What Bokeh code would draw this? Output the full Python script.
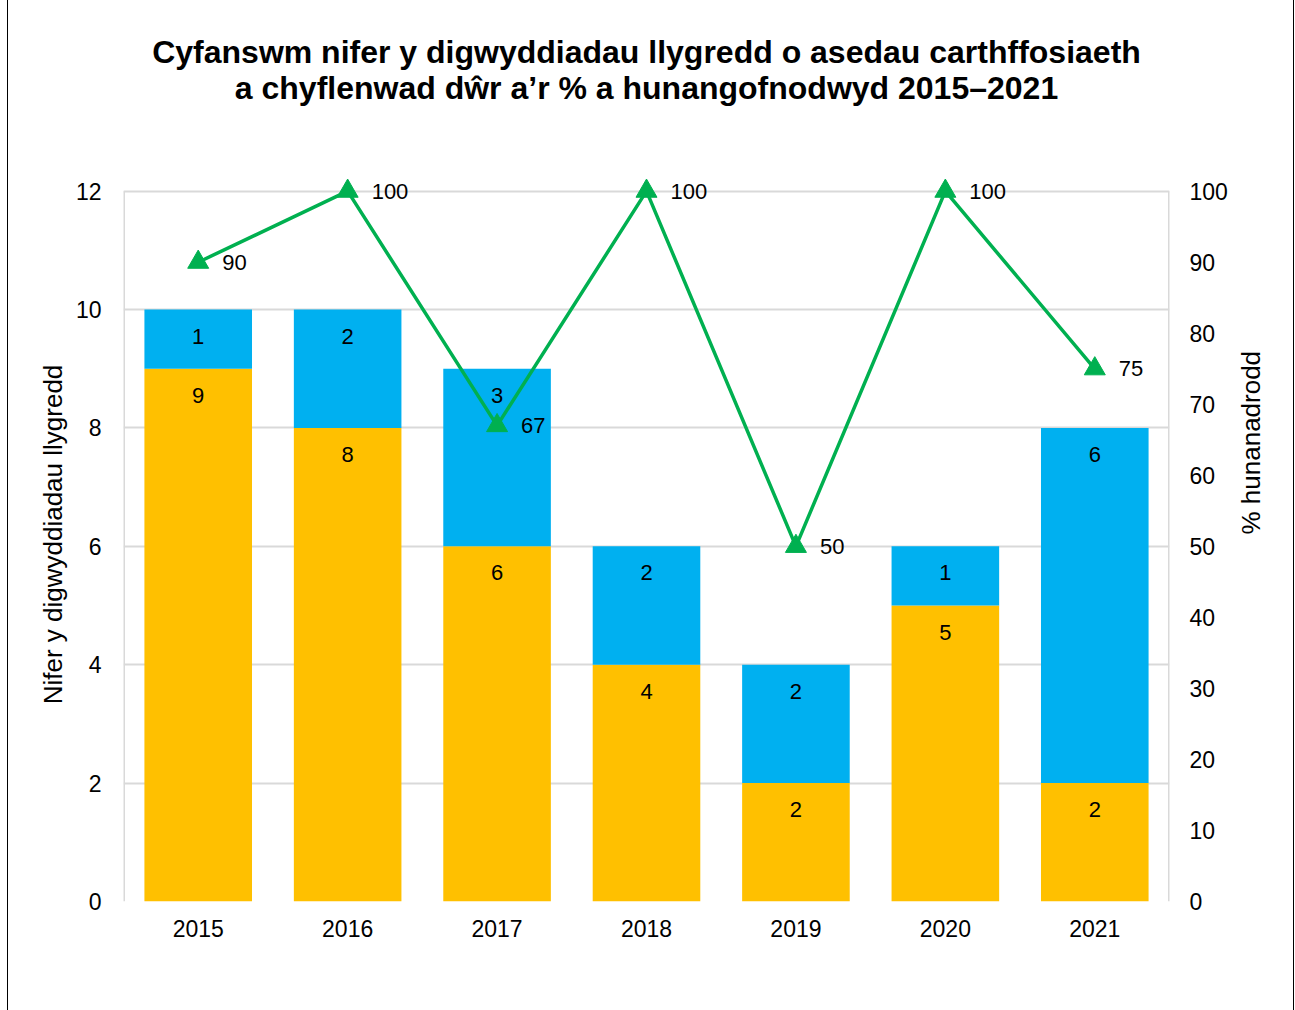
import math
from bokeh.plotting import figure
from bokeh.models import (Range1d, LinearAxis, ColumnDataSource, Legend, LegendItem,
                          FixedTicker)
from bokeh.core.properties import value
from bokeh.embed import file_html
from bokeh.resources import INLINE

years = ["2015", "2016", "2017", "2018", "2019", "2020", "2021"]
sewerage = [9, 8, 6, 4, 2, 5, 2]
water = [1, 2, 3, 2, 2, 1, 6]
self_pct = [90, 100, 67, 100, 50, 100, 75]

title_text = ("Cyfanswm nifer y digwyddiadau llygredd o asedau carthffosiaeth\n"
              "a chyflenwad dŵr a’r % a hunangofnodwyd 2015–2021")
left_label = "Nifer y digwyddiadau llygredd"
right_label = "% hunanadrodd"
series_names = ["Cyfanswm carthffosiaeth", "Cyfanswm cyflenwad dŵr", "% hunanadrodd"]

left_ticks = [0, 2, 4, 6, 8, 10, 12]
right_ticks = [0, 10, 20, 30, 40, 50, 60, 70, 80, 90, 100]
Y_MAX = 12
PCT_MAX = 100
Y_PAD = 0.4   # headroom so that markers/labels at the top are not clipped

FONT = "Liberation Sans"
YELLOW = "#FFC000"
BLUE = "#00B0F0"
GREEN = "#00B050"
GRID = "#d9d9d9"

src = ColumnDataSource(dict(
    year=years,
    sew=sewerage,
    wat=water,
    sew_lab_y=[s - 0.45 for s in sewerage],
    wat_lab_y=[s + w - 0.45 for s, w in zip(sewerage, water)],
    sew_txt=[str(v) for v in sewerage],
    wat_txt=[str(v) for v in water],
    pct=self_pct,
    pct_txt=[str(v) for v in self_pct],
))

p = figure(x_range=years, y_range=Range1d(0, Y_MAX + Y_PAD),
           frame_width=1046, frame_height=734,
           output_backend="svg", toolbar_location=None,
           min_border_left=115, min_border_right=124, min_border_top=195,
           min_border_bottom=60)
p.margin = (-29, 0, 0, 7)
p.styles = {"border": "1.5px solid black", "border-bottom": "none"}

p.title.text = title_text
p.title.align = "center"
p.title.text_align = "center"
p.title.vertical_align = "top"
p.title.text_font = FONT
p.title.text_font_size = "32px"
p.title.text_font_style = "bold"
p.title.text_color = "black"
p.title.text_line_height = 1.0
p.title.standoff = 120

p.extra_y_ranges = {"pct": Range1d(0, PCT_MAX * (Y_MAX + Y_PAD) / Y_MAX)}

bars = p.vbar_stack(["sew", "wat"], x="year", width=0.72, color=[YELLOW, BLUE],
                    line_color=None, source=src)

# frame sides (light grey), drawn only over the 0..Y_MAX span
# (numeric x on a factor range = synthetic coordinate: 0 is the left edge, len(years) the right)
p.segment(x0=[0, len(years)], x1=[0, len(years)], y0=[0, 0], y1=[Y_MAX, Y_MAX],
          line_color=GRID, line_width=3)

line_r = p.line(x="year", y="pct", source=src, y_range_name="pct",
                line_color=GREEN, line_width=3.5)
mark_r = p.scatter(x="year", y="pct", source=src, y_range_name="pct", marker="triangle",
                   size=21, fill_color=GREEN, line_color=GREEN)

lab_font = "22px"
p.text(x="year", y="sew_lab_y", text="sew_txt", source=src, text_align="center",
       text_baseline="middle", text_font=value(FONT), text_font_size=lab_font, text_color="black")
p.text(x="year", y="wat_lab_y", text="wat_txt", source=src, text_align="center",
       text_baseline="middle", text_font=value(FONT), text_font_size=lab_font, text_color="black")
p.text(x="year", y="pct", text="pct_txt", source=src, y_range_name="pct", x_offset=24,
       text_align="left", text_baseline="middle", text_font=value(FONT),
       text_font_size=lab_font, text_color="black")

# axes
p.yaxis.ticker = FixedTicker(ticks=left_ticks)
p.yaxis.axis_label = left_label
right_axis = LinearAxis(y_range_name="pct", ticker=FixedTicker(ticks=right_ticks),
                        axis_label=right_label)
p.add_layout(right_axis, "right")

for ax in [p.xaxis[0], p.yaxis[0], right_axis]:
    ax.axis_line_color = None
    ax.major_tick_line_color = None
    ax.minor_tick_line_color = None
    ax.major_tick_out = 0
    ax.major_tick_in = 0
    ax.major_label_text_font = FONT
    ax.major_label_text_font_size = "23px"
    ax.major_label_text_color = "black"
    ax.axis_label_text_font = FONT
    ax.axis_label_text_font_size = "26px"
    ax.axis_label_text_font_style = "normal"
    ax.axis_label_text_color = "black"
    ax.major_label_standoff = 20

p.xaxis.major_label_standoff = 18
p.yaxis[0].major_label_standoff = 22
p.yaxis[0].axis_label_standoff = 5
right_axis.axis_label_standoff = 20
right_axis.axis_label_orientation = math.pi / 2

p.xgrid.grid_line_color = None
p.ygrid.grid_line_color = GRID
p.ygrid.grid_line_width = 2
p.outline_line_color = None

legend = Legend(items=[
    LegendItem(label=series_names[0], renderers=[bars[0]]),
    LegendItem(label=series_names[1], renderers=[bars[1]]),
    LegendItem(label=series_names[2], renderers=[line_r, mark_r]),
], orientation="horizontal", location="center")
legend.label_text_font = FONT
legend.label_text_font_size = "26.5px"
legend.label_text_color = "black"
legend.glyph_width = 62
legend.glyph_height = 17
legend.label_standoff = 2
legend.spacing = 50
legend.padding = 5
legend.margin = 4
legend.border_line_color = GRID
legend.border_line_width = 2
p.add_layout(legend, "below")

open("out.html", "w").write(file_html(p, INLINE))
